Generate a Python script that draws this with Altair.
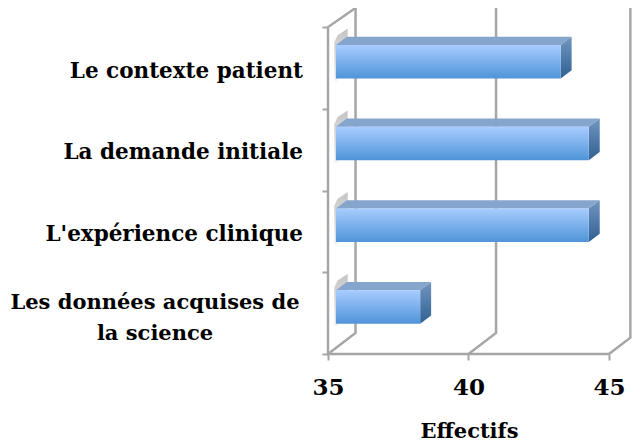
import altair as alt
import pandas as pd

labels_single = ["L'expérience clinique", "La demande initiale", "Le contexte patient"]
label_single_pos = [1, 2, 3]
label_double = ["Les données acquises de", "la science"]
values = [38, 44, 44, 43]
x_ticks = [35, 40, 45]
cat_ticks = [0, 1, 2, 3, 4]
FONT = "DejaVu Serif"
GRAY = "#a6a6a6"

# depth of the pseudo-3D box, in data units
wall_dx = {35: 0.98, 40: 0.98, 45: 0.76}
wall_dy = {35: 0.257, 40: 0.257, 45: 0.2}
bar_x0, bar_y0, bar_y1 = 0.28, 0.37, 0.78
bar_dx, bar_dy = 0.39, 0.10
TOP = 4.233
X_MAX = 45 + 5 * (304 / 140.5 - 2)

xs = alt.Scale(domain=[35, X_MAX], range=[0, 304], nice=False, zero=False)
ys = alt.Scale(domain=[0, TOP], range=[346, 0], nice=False, zero=False)
x_axis = alt.Axis(
    values=x_ticks, orient="bottom", grid=False, domain=False, ticks=True, tickColor=GRAY,
    tickWidth=2, tickSize=6, labelFont=FONT, labelFontWeight="bold", labelFontSize=23,
    labelColor="black", labelPadding=16, labelOverlap=False, labelFlush=False,
    title="Effectifs", titleFont=FONT, titleFontWeight="bold", titleFontSize=21,
    titleColor="black", titlePadding=21, titleX=141)
y_axis = alt.Axis(
    values=cat_ticks, orient="left", grid=False, domain=False, labels=False, ticks=True,
    tickColor=GRAY, tickWidth=2, tickSize=6, title=None)
X = lambda f="x": alt.X(f"{f}:Q", scale=xs, axis=x_axis)
Y = lambda f="y": alt.Y(f"{f}:Q", scale=ys, axis=y_axis)

# walls
wall = []
for v in x_ticks:
    for o, (a, b) in enumerate([(v, 0), (v + wall_dx[v], wall_dy[v]), (v + wall_dx[v], TOP)]):
        wall.append(dict(x=a, y=b, g=f"w{v}", o=o))
for o, (a, b) in enumerate([(35 + wall_dx[35], TOP), (35, 4), (35, 0), (45, 0)]):
    wall.append(dict(x=a, y=b, g="front", o=o))
walls = alt.Chart(pd.DataFrame(wall)).mark_line(color=GRAY, strokeWidth=2.5).encode(
    x=X(), y=Y(), detail="g:N", order="o:Q")

front, top_face, side, shadow = [], [], [], []
for i, v in enumerate(values):
    front.append(dict(x=35 + bar_x0, x2=v + bar_x0, y=i + bar_y0, y2=i + bar_y1))
    l, r = 35 + bar_x0, v + bar_x0
    t = i + bar_y1
    for (a, b, c) in [(l, t, t), (l + bar_dx, t, t + bar_dy),
                      (r, t, t + bar_dy), (r + bar_dx, t + bar_dy, t + bar_dy)]:
        top_face.append(dict(x=a, y=b, y2=c, g=i))
    for (a, b, c) in [(r, i + bar_y0, t), (r + bar_dx, i + bar_y0 + bar_dy, t + bar_dy)]:
        side.append(dict(x=a, y=b, y2=c, g=i))
    for (a, b, c) in [(l - 0.06, i + bar_y0 - 0.03, t + 0.03),
                      (l + 0.06, i + bar_y0 - 0.03, t + 0.12),
                      (l + bar_dx + 0.03, t, t + bar_dy + 0.1)]:
        shadow.append(dict(x=a, y=b, y2=c, g=i))

def grad(c0, c1):
    return alt.Gradient(gradient="linear", x1=0, x2=0, y1=0, y2=1,
                        stops=[alt.GradientStop(color=c0, offset=0), alt.GradientStop(color=c1, offset=1)])

def face(rows, color):
    return alt.Chart(pd.DataFrame(rows)).mark_area(color=color).encode(
        x=X(), y=Y(), y2="y2:Q", detail="g:N")

shadow_l = face(shadow, grad("#c4c4c4", "#f4f4f4"))
top_l = face(top_face, "#86a5cc")
side_l = face(side, grad("#7196bf", "#2f6092"))
front_l = alt.Chart(pd.DataFrame(front)).mark_rect(color=grad("#a8ccff", "#4f94d8")).encode(
    x=X(), x2="x2:Q", y=Y(), y2="y2:Q")

text_kw = dict(font=FONT, fontWeight="bold", color="black", baseline="middle")
single = alt.Chart(pd.DataFrame(dict(t=labels_single, y=[p + 0.455 for p in label_single_pos]))).mark_text(
    align="right", fontSize=21.5, **text_kw).encode(x=alt.value(-25), y=Y(), text="t:N")
double = alt.Chart(pd.DataFrame(dict(t=label_double, y=[0.62, 0.25]))).mark_text(
    align="center", fontSize=21, **text_kw).encode(x=alt.value(-173), y=Y(), text="t:N")

chart = alt.layer(walls, shadow_l, top_l, side_l, front_l, single, double).properties(
    width=304, height=346,
    autosize=alt.AutoSizeParams(type="none"),
    padding={"left": 320, "top": 0, "right": 0, "bottom": 89},
).configure_view(stroke=None)
chart.save("out.html", embed_options={"renderer": "svg", "actions": False})
